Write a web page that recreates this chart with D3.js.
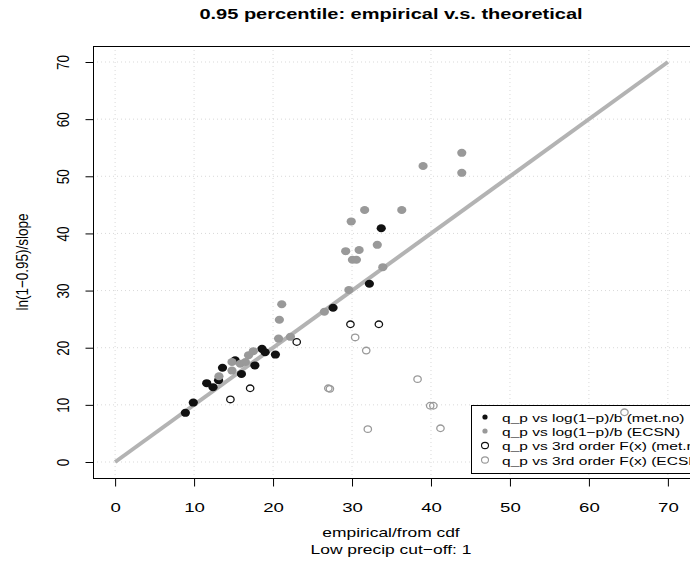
<!DOCTYPE html>
<html><head><meta charset="utf-8">
<script src="https://cdn.jsdelivr.net/npm/d3@7"></script>
<style>body{margin:0;background:#fff}svg{display:block}text{font-family:"Liberation Sans",Arial,sans-serif}</style>
</head><body><svg id="c" width="690" height="567"></svg>
<script>
const ticks = [0,10,20,30,40,50,60,70];
const metnoX = [8.9,9.9,11.6,12.4,13.1,13.6,15.2,16.0,17.7,18.6,19.0,20.3,27.6,32.2,33.7];
const metnoY = [8.6,10.4,13.8,13.1,14.3,16.5,17.8,15.4,16.9,19.8,19.2,18.8,27.0,31.2,40.9];
const ecsnX = [13.15,14.8,14.8,15.85,16.5,16.9,17.5,20.7,22.2,20.8,21.1,26.5,29.6,33.9,30.05,30.56,29.2,30.9,33.2,29.9,31.6,36.3,39.0,43.9,43.9];
const ecsnY = [15.0,16.0,17.5,17.2,17.5,18.7,19.4,21.6,21.9,24.9,27.6,26.3,30.1,34.1,35.4,35.4,36.9,37.1,38.0,42.1,44.1,44.1,51.8,50.6,54.1];
const metno3X = [14.6,17.1,23.0,29.8,33.4];
const metno3Y = [10.95,12.9,21.0,24.1,24.1];
const ecsn3X = [30.4,31.8,27.0,27.2,38.3,39.9,40.3,32.0,41.2,64.5];
const ecsn3Y = [21.8,19.5,12.9,12.8,14.5,9.85,9.85,5.75,5.9,8.7];
const legendLabels = ["q_p vs log(1\u2212p)/b (met.no)","q_p vs log(1\u2212p)/b (ECSN)","q_p vs 3rd order F(x) (met.no)","q_p vs 3rd order F(x) (ECSN)"];
const titleText = "0.95 percentile: empirical v.s. theoretical";
const xLab1 = "empirical/from cdf", xLab2 = "Low precip cut\u2212off: 1";
const yLab = "ln(1\u22120.95)/slope";

const svg = d3.select("#c");
const L=93,R=690,T=46,B=478;
const SX = 1.38;
const x = d3.scaleLinear().domain([-2.8,72.8]).range([L,R]);
const y = d3.scaleLinear().domain([-2.8,72.8]).range([B,T]);
const black="#111", gray="#999", lineGray="#b3b3b3";

// grid
const g = svg.append("g");
ticks.forEach(t=>{
  g.append("line").attr("x1",x(t)).attr("x2",x(t)).attr("y1",T).attr("y2",B).attr("stroke","#d9d9d9").attr("stroke-dasharray","1,3");
  g.append("line").attr("y1",y(t)).attr("y2",y(t)).attr("x1",L).attr("x2",R).attr("stroke","#d9d9d9").attr("stroke-dasharray","1,3");
});
// 1:1 line
svg.append("line").attr("x1",x(0)).attr("y1",y(0)).attr("x2",x(70)).attr("y2",y(70)).attr("stroke",lineGray).attr("stroke-width",4);

// legend
const lg = svg.append("g");
lg.append("rect").attr("x",471.5).attr("y",405.5).attr("width",240).attr("height",68).attr("fill","#fff").attr("stroke","#000").attr("stroke-width",1);
const rowY = [417,431,445.5,460];
legendLabels.forEach((s,i)=>{
  lg.append("text").attr("transform",`translate(502,${rowY[i]+4.5}) scale(1.35,1)`).attr("font-size",11.5).attr("fill","#000").text(s);
  if(i<2) lg.append("circle").attr("cx",485).attr("cy",rowY[i]).attr("r",2.6).attr("fill",i==0?black:gray);
  else lg.append("ellipse").attr("cx",485).attr("cy",rowY[i]).attr("rx",3.5).attr("ry",3.1).attr("fill","none").attr("stroke",i==2?black:gray).attr("stroke-width",1.1);
});

// points
function filled(xs,ys,col){
  svg.append("g").selectAll("ellipse").data(xs).join("ellipse")
    .attr("cx",(d)=>x(d)).attr("cy",(d,i)=>y(ys[i])).attr("rx",4.6).attr("ry",4.0).attr("fill",col);
}
function open(xs,ys,col){
  svg.append("g").selectAll("ellipse").data(xs).join("ellipse")
    .attr("cx",(d)=>x(d)).attr("cy",(d,i)=>y(ys[i])).attr("rx",3.7).attr("ry",3.3).attr("fill","none").attr("stroke",col).attr("stroke-width",1.3);
}
filled(metnoX,metnoY,black);
filled(ecsnX,ecsnY,gray);
open(metno3X,metno3Y,black);
open(ecsn3X,ecsn3Y,gray);

// box
svg.append("rect").attr("x",L+0.5).attr("y",T+0.5).attr("width",R-L+5).attr("height",B-T).attr("fill","none").attr("stroke","#000");

// x axis
const xa = svg.append("g").attr("transform",`translate(0,${B+0.5})`)
  .call(d3.axisBottom(x).tickValues(ticks).tickSize(8).tickFormat(d3.format("d")));
xa.select(".domain").remove();
xa.selectAll("text").attr("font-size",13.5).attr("font-family","Liberation Sans, Arial, sans-serif").attr("fill","#000")
  .attr("y",null).attr("dy",null).attr("transform",`translate(0,33) scale(${SX},1)`);
// y axis
const ya = svg.append("g").attr("transform",`translate(${L+0.5},0)`)
  .call(d3.axisLeft(y).tickValues(ticks).tickSize(8).tickFormat(d3.format("d")));
ya.select(".domain").remove();
ya.selectAll("text").attr("font-size",13.5).attr("font-family","Liberation Sans, Arial, sans-serif").attr("fill","#000")
  .attr("text-anchor","middle").attr("x",null).attr("y",0).attr("dy","0.36em")
  .attr("transform",`translate(-31,0) scale(1.25,1) rotate(-90)`);

// titles
svg.append("text").attr("transform",`translate(391,19) scale(${SX},1)`).attr("text-anchor","middle").attr("font-weight","bold").attr("font-size",14.5).text(titleText);
svg.append("text").attr("transform",`translate(391,537) scale(1.34,1)`).attr("text-anchor","middle").attr("font-size",13).text(xLab1);
svg.append("text").attr("transform",`translate(391,554) scale(1.34,1)`).attr("text-anchor","middle").attr("font-size",13).text(xLab2);
svg.append("text").attr("transform",`translate(21.5,262) scale(1.25,1) rotate(-90)`).attr("text-anchor","middle").attr("dy","0.36em").attr("font-size",13.5).text(yLab);
</script></body></html>
